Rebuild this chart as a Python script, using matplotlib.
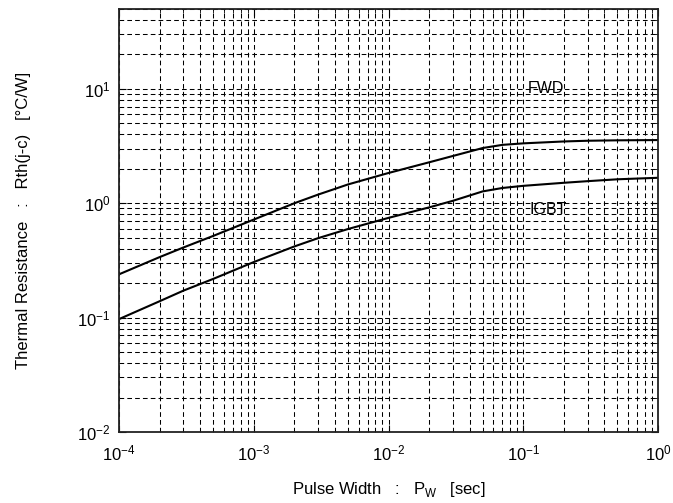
import numpy as np
import matplotlib
matplotlib.use('Agg')
import matplotlib.pyplot as plt
from matplotlib.ticker import LogLocator, NullFormatter

plt.rcParams['font.family'] = ['Liberation Sans', 'DejaVu Sans']
plt.rcParams['axes.unicode_minus'] = False

# pulse width [sec] and thermal resistance [degC/W]
pw = [1e-4, 2e-4, 3e-4, 5e-4, 1e-3, 2e-3, 3e-3, 5e-3, 1e-2, 2e-2, 3e-2, 5e-2,
      7e-2, 1e-1, 2e-1, 3e-1, 5e-1, 1.0]
fwd = [0.239, 0.338, 0.41, 0.518, 0.72, 1.0, 1.19, 1.46, 1.84, 2.28, 2.59, 3.04,
       3.24, 3.34, 3.47, 3.52, 3.55, 3.57]
igbt = [0.097, 0.139, 0.172, 0.218, 0.306, 0.419, 0.495, 0.595, 0.745, 0.92, 1.05, 1.27,
        1.36, 1.42, 1.51, 1.56, 1.62, 1.67]

fig = plt.figure(figsize=(6.73, 5.03), dpi=100)
ax = fig.add_axes([0.1768, 0.1412, 0.801, 0.841])

ax.plot(pw, fwd, color='black', lw=1.5)
ax.plot(pw, igbt, color='black', lw=1.5)

ax.set_xscale('log')
ax.set_yscale('log')
ax.set_xlim(1e-4, 1)
ax.set_ylim(1e-2, 50)

ax.xaxis.set_minor_locator(LogLocator(base=10, subs=np.arange(2, 10), numticks=20))
ax.yaxis.set_minor_locator(LogLocator(base=10, subs=np.arange(2, 10), numticks=20))
ax.xaxis.set_minor_formatter(NullFormatter())
ax.yaxis.set_minor_formatter(NullFormatter())

ax.grid(True, which='both', color='black', ls=(0, (4.5, 3)), lw=0.75)
ax.tick_params(which='both', direction='in', top=True, right=True, labelsize=12)
ax.tick_params(axis='x', which='major', pad=8)
ax.tick_params(axis='y', which='major', pad=6)
ax.tick_params(which='major', length=5)
ax.tick_params(which='minor', length=3)
for s in ax.spines.values():
    s.set_linewidth(1.3)
    s.set_color('#222222')

ax.text(0.108, 10, 'FWD', fontsize=11.5, va='center', ha='left')
ax.text(0.111, 0.88, 'IGBT', fontsize=11.5, va='center', ha='left')

ax.set_ylabel('Thermal Resistance   :   Rth(j-c)   [°C/W]', fontsize=12, va='center')
ax.yaxis.set_label_coords(-0.178, 0.5)
ax.set_xlabel('Pulse Width   :   P$_\\mathregular{W}$   [sec]', fontsize=12, va='center')
ax.xaxis.set_label_coords(0.5, -0.135)

fig.savefig('out.png', dpi=100)
